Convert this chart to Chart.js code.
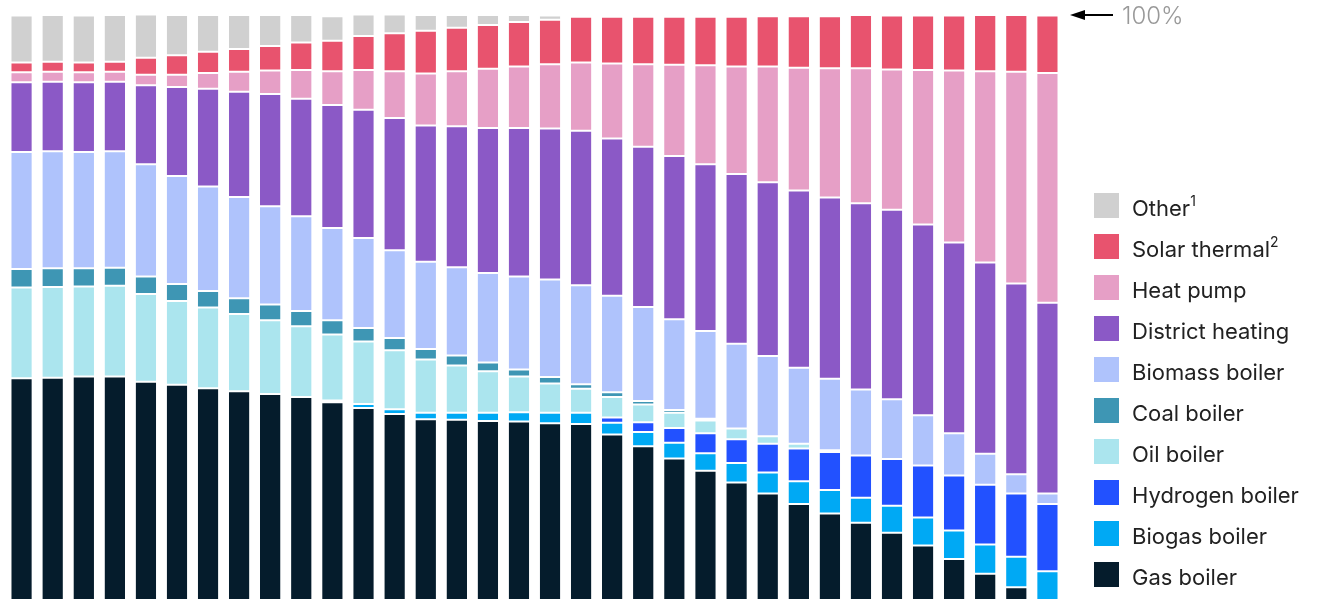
<!DOCTYPE html>
<html>
<head>
<meta charset="utf-8">
<script src="https://cdn.jsdelivr.net/npm/chart.js@4.4.1/dist/chart.umd.min.js"></script>
<style>
  body { margin: 0; background: #fff; }
  #wrap { position: relative; width: 1319px; height: 600px; overflow: hidden; font-family: Inter, "Liberation Sans", sans-serif; }
  #grafico { position: absolute; left: 0; top: 0; }
  #leyenda { position: absolute; left: 1094px; top: 193px; margin: 0; padding: 0; list-style: none; }
  #leyenda li { height: 25px; margin-bottom: 16px; display: flex; align-items: center; font-size: 22px; color: #222; white-space: nowrap; }
  #leyenda .caja { width: 25px; height: 25px; margin-right: 13px; flex: none; }
  #leyenda .txt { position: relative; top: 2px; }
  #leyenda sup { font-size: 14px; position: relative; top: -2px; }
  #flecha { position: absolute; left: 1066px; top: 5px; }
  #cien { position: absolute; left: 1122px; top: 2px; font-size: 24px; font-weight: 300; color: #999; line-height: 28px; }
</style>
</head>
<body>
<div id="wrap">
  <canvas id="grafico" width="1319" height="600"></canvas>
  <svg id="flecha" width="52" height="20">
    <line x1="17" y1="10" x2="47" y2="10" stroke="#000" stroke-width="2"/>
    <polygon points="4,10 19,5 19,15" fill="#000"/>
  </svg>
  <div id="cien">100%</div>
  <ul id="leyenda"></ul>
</div>
<script>
var years = [2017, 2018, 2019, 2020, 2021, 2022, 2023, 2024, 2025, 2026, 2027, 2028, 2029, 2030, 2031, 2032, 2033,
             2034, 2035, 2036, 2037, 2038, 2039, 2040, 2041, 2042, 2043, 2044, 2045, 2046, 2047, 2048, 2049, 2050];

// share of heating, %
var gas      = [37.9, 38.0, 38.2, 38.2, 37.3, 36.8, 36.2, 35.7, 35.2, 34.7, 33.8, 32.8, 31.8, 30.9, 30.8, 30.6, 30.5,
                30.2, 30.1, 28.3, 26.3, 24.2, 22.1, 20.1, 18.2, 16.4, 14.8, 13.2, 11.5, 9.3, 7.0, 4.5, 2.2, 0];
var biogas   = [0, 0, 0, 0, 0, 0, 0, 0, 0, 0, 0.3, 0.7, 0.8, 1.1, 1.2, 1.4, 1.6,
                1.8, 1.9, 2.0, 2.4, 2.7, 3.0, 3.3, 3.6, 3.9, 4.0, 4.3, 4.6, 4.8, 4.9, 5.0, 5.2, 4.9];
var hydrogen = [0, 0, 0, 0, 0, 0, 0, 0, 0, 0, 0, 0, 0, 0, 0, 0, 0,
                0, 0, 0.9, 1.7, 2.5, 3.4, 4.1, 4.9, 5.6, 6.5, 7.2, 8.0, 8.9, 9.4, 10.2, 10.8, 11.5];
var oil      = [15.5, 15.5, 15.4, 15.5, 15.0, 14.3, 13.8, 13.2, 12.6, 12.1, 11.3, 10.7, 10.1, 9.1, 8.1, 7.1, 6.1,
                5.0, 4.1, 3.5, 3.0, 2.6, 2.2, 1.8, 1.3, 0.8, 0.3, 0, 0, 0, 0, 0, 0, 0];
var coal     = [3.2, 3.2, 3.1, 3.1, 3.0, 2.9, 2.8, 2.7, 2.7, 2.6, 2.4, 2.3, 2.1, 1.8, 1.7, 1.5, 1.2,
                1.1, 0.8, 0.8, 0.6, 0.5, 0.3, 0, 0, 0, 0, 0, 0, 0, 0, 0, 0, 0];
var biomass  = [20.0, 20.0, 19.9, 19.9, 19.2, 18.5, 17.9, 17.3, 16.8, 16.2, 15.8, 15.4, 15.0, 14.9, 15.1, 15.3, 15.9,
                16.7, 16.9, 16.5, 16.1, 15.5, 15.0, 14.5, 13.7, 13.0, 12.2, 11.3, 10.2, 8.6, 7.2, 5.3, 3.3, 1.8];
var district = [11.9, 11.9, 11.9, 11.9, 13.5, 15.2, 16.7, 18.0, 19.2, 20.1, 21.0, 21.9, 22.6, 23.3, 24.1, 24.8, 25.4,
                25.8, 26.4, 26.9, 27.4, 27.9, 28.5, 29.0, 29.7, 30.3, 31.0, 31.8, 32.4, 32.6, 32.6, 32.7, 32.6, 32.6];
var heatPump = [1.7, 1.7, 1.7, 1.7, 1.8, 2.1, 2.7, 3.4, 4.0, 4.9, 5.8, 6.8, 8.0, 8.9, 9.4, 10.1, 10.5,
                11.0, 11.7, 12.8, 14.1, 15.6, 16.9, 18.4, 19.8, 21.0, 22.1, 23.1, 24.0, 26.4, 29.4, 32.7, 36.2, 39.3];
var solar    = [1.7, 1.7, 1.7, 1.7, 2.9, 3.3, 3.6, 3.9, 4.2, 4.7, 5.2, 5.8, 6.5, 7.3, 7.4, 7.5, 7.6,
                7.6, 7.8, 8.0, 8.1, 8.2, 8.3, 8.5, 8.6, 8.8, 8.9, 9.1, 9.2, 9.3, 9.4, 9.6, 9.7, 9.8];
var other    = [8.0, 8.0, 8.0, 8.0, 7.4, 6.9, 6.3, 5.8, 5.3, 4.7, 4.2, 3.7, 3.2, 2.7, 2.2, 1.7, 1.2,
                0.7, 0, 0, 0, 0, 0, 0, 0, 0, 0, 0, 0, 0, 0, 0, 0, 0];

// bottom to top
var series = [
  {label: 'Gas boiler',       sup: '',  color: '#051c2c', data: gas},
  {label: 'Biogas boiler',    sup: '',  color: '#00a9f4', data: biogas},
  {label: 'Hydrogen boiler',  sup: '',  color: '#2251ff', data: hydrogen},
  {label: 'Oil boiler',       sup: '',  color: '#abe5ee', data: oil},
  {label: 'Coal boiler',      sup: '',  color: '#3e96b4', data: coal},
  {label: 'Biomass boiler',   sup: '',  color: '#afc3fc', data: biomass},
  {label: 'District heating', sup: '',  color: '#8b59c6', data: district},
  {label: 'Heat pump',        sup: '',  color: '#e69fc6', data: heatPump},
  {label: 'Solar thermal',    sup: '2', color: '#e8536e', data: solar},
  {label: 'Other',            sup: '1', color: '#d0d0d0', data: other}
];

var datasets = series.map(function(s) {
  return {
    label: s.label,
    data: s.data,
    backgroundColor: s.color,
    borderColor: '#ffffff',
    borderWidth: {top: 1, bottom: 1, left: 0, right: 0},
    borderSkipped: false,
    barPercentage: 0.66,
    categoryPercentage: 1
  };
});

new Chart(document.getElementById('grafico'), {
  type: 'bar',
  data: {labels: years, datasets: datasets},
  options: {
    responsive: false,
    animation: false,
    devicePixelRatio: 1,
    layout: {padding: {left: 6, right: 256, top: 15, bottom: 0}},
    plugins: {legend: {display: false}, tooltip: {enabled: false}},
    scales: {
      x: {stacked: true, display: false},
      y: {stacked: true, display: false, min: 0, max: 100}
    }
  }
});

// legend, top to bottom
var ul = document.getElementById('leyenda');
series.slice().reverse().forEach(function(s) {
  var li = document.createElement('li');
  li.innerHTML = '<span class="caja" style="background:' + s.color + '"></span>' +
                 '<span class="txt">' + s.label + (s.sup ? '<sup>' + s.sup + '</sup>' : '') + '</span>';
  ul.appendChild(li);
});
</script>
</body>
</html>
